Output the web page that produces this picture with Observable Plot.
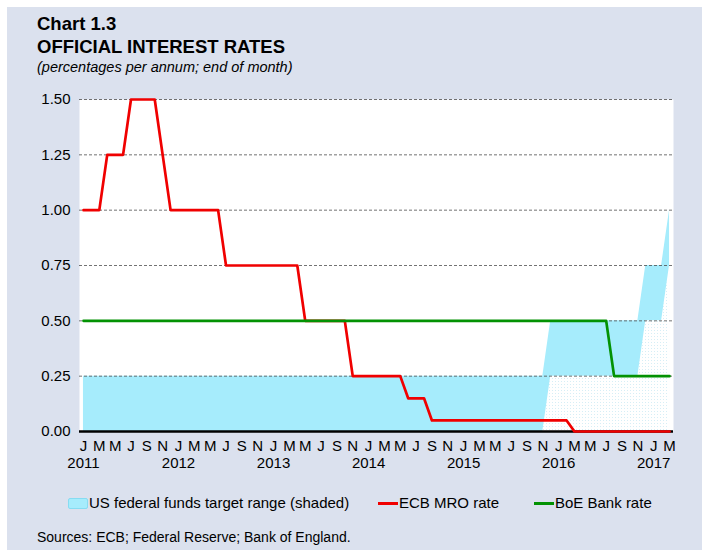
<!DOCTYPE html>
<html>
<head>
<meta charset="utf-8">
<script src="https://cdn.jsdelivr.net/npm/d3@7"></script>
<script src="https://cdn.jsdelivr.net/npm/@observablehq/plot@0.6"></script>
<style>
  html, body { margin: 0; padding: 0; background: #ffffff; }
  #wrap { position: relative; width: 702px; height: 552px; overflow: hidden; font-family: "Liberation Sans", Arial, sans-serif; color: #000; }
  #panel { position: absolute; left: 7px; top: 7px; width: 695px; height: 543px; background: #dbe1ee; }
  .t { position: absolute; white-space: nowrap; line-height: 1; }
  #chart { position: absolute; left: 0; top: 0; }
</style>
</head>
<body>
<div id="wrap">
  <div id="panel"></div>
  <div id="chart"></div>
  <div class="t" style="left:37px;top:15px;font-size:18.5px;font-weight:bold;">Chart 1.3</div>
  <div class="t" style="left:37px;top:38px;font-size:18.5px;font-weight:bold;">OFFICIAL INTEREST RATES</div>
  <div class="t" style="left:37px;top:60px;font-size:14.5px;font-style:italic;">(percentages per annum; end of month)</div>

  <div style="position:absolute;left:68px;top:498px;width:18px;height:9px;background:#a6ecfc;border:1px solid #86dcf2;border-radius:2px;"></div>
  <div class="t" style="left:89px;top:495px;font-size:15px;">US federal funds target range (shaded)</div>
  <div style="position:absolute;left:378px;top:502px;width:20px;height:3px;background:#f00000;"></div>
  <div class="t" style="left:399px;top:495px;font-size:15px;">ECB MRO rate</div>
  <div style="position:absolute;left:534px;top:502px;width:20px;height:3px;background:#039203;"></div>
  <div class="t" style="left:555px;top:495px;font-size:15px;">BoE Bank rate</div>

  <div class="t" style="left:37px;top:530px;font-size:14px;">Sources: ECB; Federal Reserve; Bank of England.</div>
</div>
<script>
// Monthly data, end of month, Jan 2011 .. Mar 2017 (75 months)
const monthLetters = ["J","F","M","A","M","J","J","A","S","O","N","D"];
const years = ["2011","2012","2013","2014","2015","2016","2017"];
const yTicks = [0, 0.25, 0.5, 0.75, 1.0, 1.25, 1.5];

const ecbRate = [
  1.00,1.00,1.00,1.25,1.25,1.25,1.50,1.50,1.50,1.50,1.25,1.00, // 2011
  1.00,1.00,1.00,1.00,1.00,1.00,0.75,0.75,0.75,0.75,0.75,0.75, // 2012
  0.75,0.75,0.75,0.75,0.50,0.50,0.50,0.50,0.50,0.50,0.25,0.25, // 2013
  0.25,0.25,0.25,0.25,0.25,0.15,0.15,0.15,0.05,0.05,0.05,0.05, // 2014
  0.05,0.05,0.05,0.05,0.05,0.05,0.05,0.05,0.05,0.05,0.05,0.05, // 2015
  0.05,0.05,0.00,0.00,0.00,0.00,0.00,0.00,0.00,0.00,0.00,0.00, // 2016
  0.00,0.00,0.00                                               // 2017
];
const boeRate = [
  0.50,0.50,0.50,0.50,0.50,0.50,0.50,0.50,0.50,0.50,0.50,0.50, // 2011
  0.50,0.50,0.50,0.50,0.50,0.50,0.50,0.50,0.50,0.50,0.50,0.50, // 2012
  0.50,0.50,0.50,0.50,0.50,0.50,0.50,0.50,0.50,0.50,0.50,0.50, // 2013
  0.50,0.50,0.50,0.50,0.50,0.50,0.50,0.50,0.50,0.50,0.50,0.50, // 2014
  0.50,0.50,0.50,0.50,0.50,0.50,0.50,0.50,0.50,0.50,0.50,0.50, // 2015
  0.50,0.50,0.50,0.50,0.50,0.50,0.50,0.25,0.25,0.25,0.25,0.25, // 2016
  0.25,0.25,0.25                                               // 2017
];
const fedLower = [
  0,0,0,0,0,0,0,0,0,0,0,0,                                     // 2011
  0,0,0,0,0,0,0,0,0,0,0,0,                                     // 2012
  0,0,0,0,0,0,0,0,0,0,0,0,                                     // 2013
  0,0,0,0,0,0,0,0,0,0,0,0,                                     // 2014
  0,0,0,0,0,0,0,0,0,0,0,0.25,                                  // 2015
  0.25,0.25,0.25,0.25,0.25,0.25,0.25,0.25,0.25,0.25,0.25,0.50, // 2016
  0.50,0.50,0.75                                               // 2017
];
const fedUpper = [
  0.25,0.25,0.25,0.25,0.25,0.25,0.25,0.25,0.25,0.25,0.25,0.25, // 2011
  0.25,0.25,0.25,0.25,0.25,0.25,0.25,0.25,0.25,0.25,0.25,0.25, // 2012
  0.25,0.25,0.25,0.25,0.25,0.25,0.25,0.25,0.25,0.25,0.25,0.25, // 2013
  0.25,0.25,0.25,0.25,0.25,0.25,0.25,0.25,0.25,0.25,0.25,0.25, // 2014
  0.25,0.25,0.25,0.25,0.25,0.25,0.25,0.25,0.25,0.25,0.25,0.50, // 2015
  0.50,0.50,0.50,0.50,0.50,0.50,0.50,0.50,0.50,0.50,0.50,0.75, // 2016
  0.75,0.75,1.00                                               // 2017
];

const idx = ecbRate.map((_, i) => i);
const tickIdx = idx.filter(i => i % 2 === 0);
const yearIdx = idx.filter(i => i % 12 === 0);

const font = '"Liberation Sans", Arial, sans-serif';

const svg = Plot.plot({
  width: 702,
  height: 490,
  marginLeft: 79,
  marginRight: 29,
  marginTop: 99,
  marginBottom: 59,
  x: { domain: [-0.5, 74.5], axis: null },
  y: { domain: [0, 1.5], axis: null },
  style: { background: "transparent", fontFamily: font, fontSize: "15px", color: "#000", overflow: "visible" },
  marks: [
    Plot.frame({ fill: "#ffffff", stroke: "none" }),
    Plot.areaY(idx, { x: i => i, y1: () => 0, y2: i => fedLower[i], fill: "url(#fedDots)" }),
    Plot.areaY(idx, { x: i => i, y1: i => fedLower[i], y2: i => fedUpper[i], fill: "#a6ecfc" }),
    Plot.ruleY(yTicks.filter(d => d > 0), { stroke: "#444", strokeOpacity: 0.75, strokeWidth: 1, strokeDasharray: "3,2" }),
    Plot.ruleY([0], { stroke: "#000", strokeWidth: 2.5 }),
    Plot.line(idx, { x: i => i, y: i => ecbRate[i], stroke: "#f00000", strokeWidth: 2.7 }),
    Plot.line(idx, { x: i => i, y: i => boeRate[i], stroke: "#039203", strokeWidth: 2.7 }),
    Plot.axisY(yTicks, { anchor: "left", tickSize: 0, tickPadding: 9, tickFormat: d3.format(".2f"), fontSize: 15, fill: "#000" }),
    Plot.text(tickIdx, { x: d => d, frameAnchor: "bottom", dy: 19, text: d => monthLetters[d % 12], fontSize: 15, fill: "#000" }),
    Plot.text(yearIdx, { x: d => d, frameAnchor: "bottom", dy: 36, text: d => years[d / 12], fontSize: 15, fill: "#000" })
  ]
});

const defs = d3.select(svg).insert("defs", ":first-child");
const pat = defs.append("pattern").attr("id", "fedDots").attr("width", 3).attr("height", 3).attr("patternUnits", "userSpaceOnUse");
pat.append("rect").attr("width", 3).attr("height", 3).attr("fill", "#ffffff");
pat.append("rect").attr("width", 1).attr("height", 1).attr("fill", "#d6eef6");

document.getElementById("chart").appendChild(svg);
</script>
</body>
</html>
